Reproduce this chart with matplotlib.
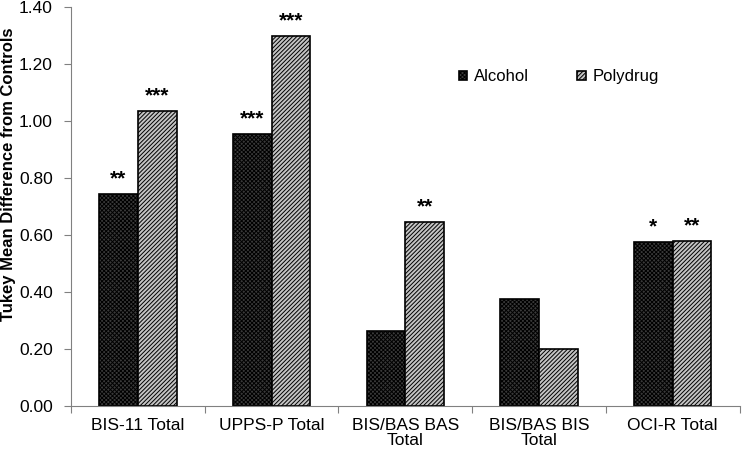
import matplotlib
matplotlib.use('Agg')
import matplotlib.pyplot as plt
import numpy as np

plt.rcParams['font.family'] = ['Liberation Sans', 'DejaVu Sans']
plt.rcParams['hatch.linewidth'] = 0.7

categories = ['BIS-11 Total', 'UPPS-P Total', 'BIS/BAS BAS\nTotal', 'BIS/BAS BIS\nTotal', 'OCI-R Total']
alcohol = [0.743, 0.955, 0.262, 0.375, 0.576]
polydrug = [1.035, 1.300, 0.645, 0.200, 0.578]
alcohol_sig = ['**', '***', '', '', '*']
polydrug_sig = ['***', '***', '**', '', '**']

fig = plt.figure(figsize=(7.42, 4.5), dpi=100)
ax = fig.add_axes([0.0957, 0.0978, 0.901, 0.886])

x = np.arange(len(categories))
w = 0.29
ax.bar(x - w / 2, alcohol, w, color='#3a3a3a', edgecolor='black', hatch='xxxxxxxx',
       linewidth=1.2, label='Alcohol')
ax.bar(x + w / 2, polydrug, w, color='#c4c4c4', edgecolor='black', hatch='////////',
       linewidth=1.2, label='Polydrug')

for xi, v, s in zip(x - w / 2, alcohol, alcohol_sig):
    if s:
        ax.text(xi, v + 0.02, s, ha='center', va='bottom', fontsize=15, fontweight='bold')
for xi, v, s in zip(x + w / 2, polydrug, polydrug_sig):
    if s:
        ax.text(xi, v + 0.02, s, ha='center', va='bottom', fontsize=15, fontweight='bold')

ax.set_xlim(-0.5, len(categories) - 0.5)
ax.set_ylim(0, 1.4)
yt = np.arange(0, 1.41, 0.2)
ax.set_yticks(yt)
ax.set_yticklabels(['%.2f' % t for t in yt], fontsize=12.5)
ax.set_xticks(np.arange(-0.5, len(categories), 1.0))
ax.set_xticklabels([])
ax.set_xticks(x, minor=True)
ax.set_xticklabels(categories, minor=True, fontsize=12.5, linespacing=1.0)
ax.tick_params(axis='x', which='minor', length=0, pad=9)
ax.tick_params(axis='x', which='major', length=5, color='#808080')
ax.tick_params(axis='y', length=5, color='#808080', pad=8)

for side in ['top', 'right']:
    ax.spines[side].set_visible(False)
for side in ['left', 'bottom']:
    ax.spines[side].set_color('#808080')

ax.set_ylabel('Tukey Mean Difference from Controls', fontsize=12, fontweight='bold', labelpad=8)
ax.yaxis.set_label_coords(-0.083, 0.58)

ax.legend(loc='upper left', bbox_to_anchor=(0.558, 0.882), ncol=2, frameon=False, fontsize=12,
          handlelength=0.5, handleheight=0.5, handletextpad=0.4, columnspacing=2.9)

plt.savefig('out.png', dpi=100)
